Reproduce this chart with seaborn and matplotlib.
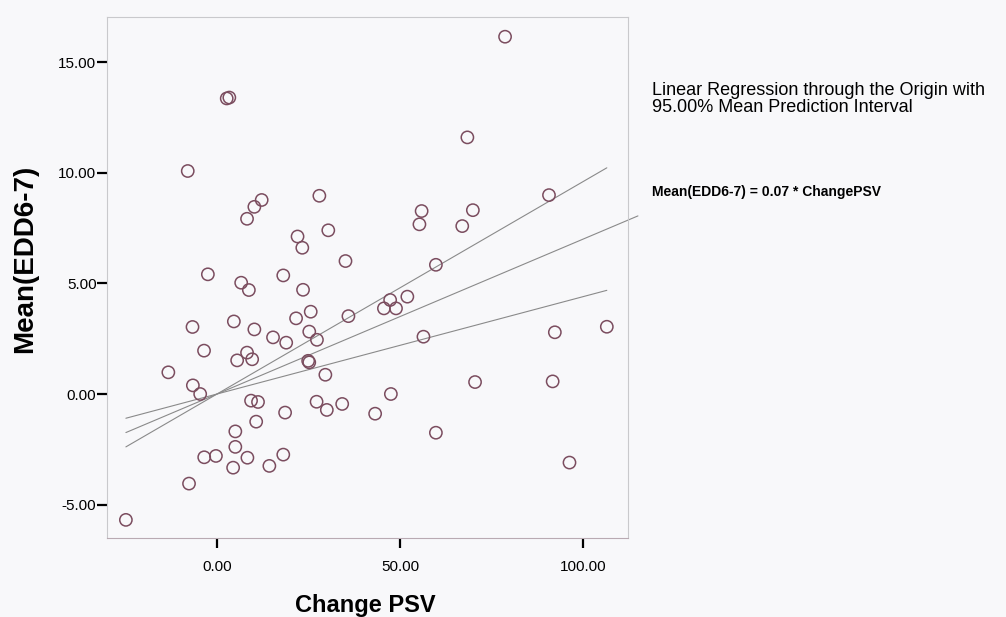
import numpy as np
import pandas as pd
import matplotlib
matplotlib.use("Agg")
import matplotlib.pyplot as plt
import seaborn as sns

# ---- data ----
change_psv = [2.65, 3.36, -8.0, 12.2, 10.2, 8.2, 27.96, 30.4, 22.0, 23.3,
              35.1, -2.5, 6.6, 8.7, 18.1, 23.5, 25.6, 21.6, 4.6, 35.9,
              -6.7, 10.2, 15.3, 18.9, 25.2, 27.3, -3.55, 8.2, 5.5, 9.6,
              24.9, 25.2, 29.6, -13.3, -6.6, -4.6, 9.3, 11.2, 18.6, 27.2,
              30.0, 34.2, 10.7, 5.0, 5.0, -3.5, -0.3, 8.3, 18.1, 4.4,
              14.3, -7.65, -24.9, 78.7, 68.4, 90.7, 55.9, 55.3, 69.9, 67.0,
              59.8, 52.0, 47.3, 45.6, 48.9, 56.4, 92.3, 106.5, 70.5, 91.7,
              47.5, 43.2, 59.8, 96.3]
mean_edd = [13.36, 13.40, 10.08, 8.77, 8.46, 7.92, 8.96, 7.40, 7.12, 6.61,
            6.01, 5.41, 5.03, 4.70, 5.36, 4.71, 3.72, 3.42, 3.28, 3.52,
            3.03, 2.92, 2.56, 2.32, 2.82, 2.45, 1.96, 1.87, 1.52, 1.57,
            1.50, 1.43, 0.87, 0.98, 0.39, 0.00, -0.30, -0.36, -0.84, -0.35,
            -0.72, -0.45, -1.25, -1.69, -2.39, -2.86, -2.80, -2.88, -2.74, -3.33,
            -3.25, -4.05, -5.69, 16.15, 11.6, 8.99, 8.27, 7.67, 8.31, 7.59,
            5.84, 4.40, 4.25, 3.87, 3.87, 2.59, 2.79, 3.04, 0.54, 0.57,
            0.00, -0.89, -1.75, -3.10]

fit_slope = 0.07          # Mean(EDD6-7) = 0.07 * ChangePSV
interval_slopes = [0.044, 0.096]   # 95% mean prediction interval (through origin)

x_ticks = [0, 50, 100]
y_ticks = [-5, 0, 5, 10, 15]

# ---- styling ----
sns.set_style("white")
plt.rcParams["font.family"] = ["Liberation Sans", "DejaVu Sans"]
plt.rcParams["text.color"] = "black"
plt.rcParams["axes.labelcolor"] = "black"
plt.rcParams["xtick.color"] = "black"
plt.rcParams["ytick.color"] = "black"

bg = "#f8f8fa"
pt_color = "#7b4d5f"
line_color = "#8a8a8a"

fig = plt.figure(figsize=(10.06, 6.17), dpi=100, facecolor=bg)
ax = fig.add_axes([0.1064, 0.128, 0.5179, 0.8444], facecolor=bg)

df = pd.DataFrame({"ChangePSV": change_psv, "MeanEDD": mean_edd})
x_min, x_max = df["ChangePSV"].min(), df["ChangePSV"].max()

# interval lines
for s in interval_slopes:
    xs = np.array([x_min, x_max])
    sns.lineplot(x=xs, y=s * xs, ax=ax, color=line_color, lw=0.8,
                 estimator=None, sort=False, zorder=2)

# fitted line, extended toward its label outside the frame
x_ext = x_max + 8.5
xs = np.array([x_min, x_ext])
sns.lineplot(x=xs, y=fit_slope * xs, ax=ax, color=line_color, lw=0.8,
             estimator=None, sort=False, zorder=2, clip_on=False)

sns.scatterplot(data=df, x="ChangePSV", y="MeanEDD", ax=ax, marker="o",
                s=78, facecolor="none", edgecolor=pt_color, linewidth=1.1,
                zorder=3)

ax.set_xlim(-30.05, 112.3)
ax.set_ylim(-6.51, 17.04)
ax.set_xticks(x_ticks)
ax.set_yticks(y_ticks)
ax.set_xticklabels([f"{v:.2f}" for v in x_ticks], fontsize=11)
ax.set_yticklabels([f"{v:.2f}" for v in y_ticks], fontsize=11)
ax.tick_params(axis="y", direction="out", length=7, width=1.6, color="black",
               labelcolor="black", pad=0.6, left=True)
ax.tick_params(axis="x", direction="out", length=7, width=1.6, color="black",
               labelcolor="black", pad=9, bottom=True)

for side, sp in ax.spines.items():
    sp.set_visible(True)
    sp.set_color("#c9c9cc")
    sp.set_linewidth(0.8)
ax.spines["bottom"].set_color("#b9aab2")

ax.set_xlabel("Change PSV", fontsize=17, fontweight="bold", color="black")
ax.set_ylabel("Mean(EDD6-7)", fontsize=20, fontweight="bold", color="black")
ax.xaxis.set_label_coords(0.495, -0.108)
ax.yaxis.set_label_coords(-0.132, 0.535)

fig.text(0.648, 0.854, "Linear Regression through the Origin with", fontsize=13,
         va="center", ha="left", color="black")
fig.text(0.648, 0.826, "95.00% Mean Prediction Interval", fontsize=13,
         va="center", ha="left", color="black")
fig.text(0.648, 0.689, f"Mean(EDD6-7) = {fit_slope:.2f} * ChangePSV", fontsize=10,
         fontweight="bold", va="center", ha="left", color="black")

fig.savefig("out.png", dpi=100, facecolor=bg)
